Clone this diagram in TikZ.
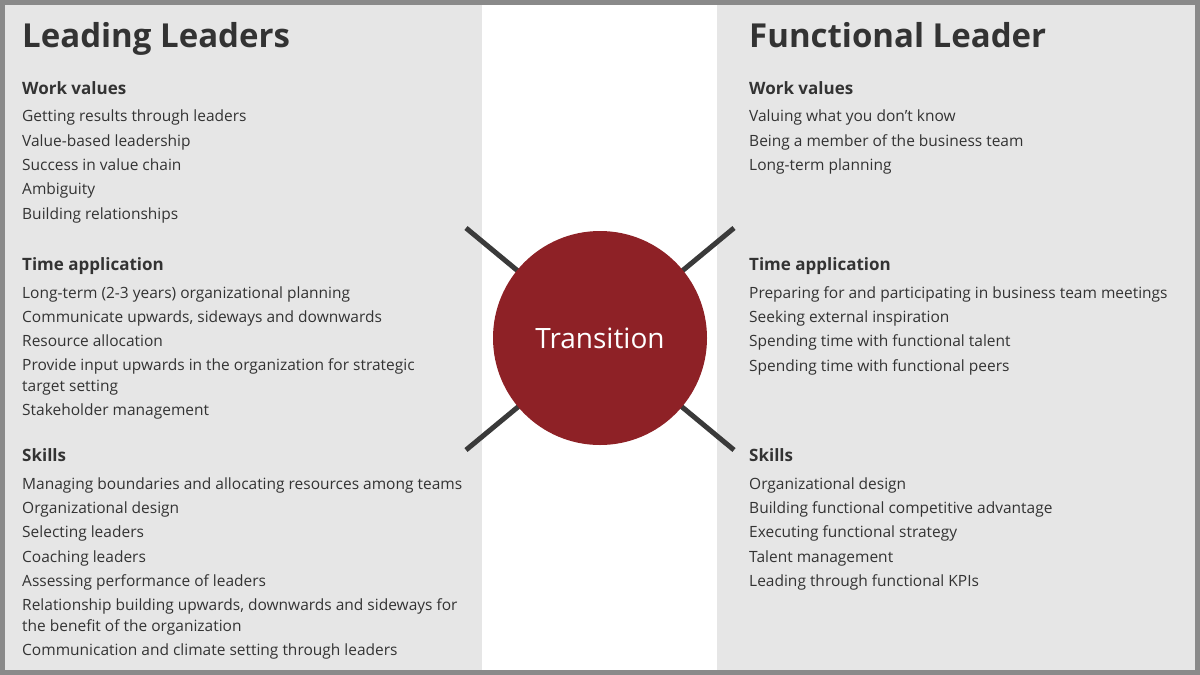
\documentclass[tikz,border=0pt]{standalone}
\usepackage{fontspec}
\setmainfont{Open Sans}
\definecolor{panel}{HTML}{E6E6E6}
\definecolor{frame}{HTML}{8A8A8A}
\definecolor{txt}{HTML}{333333}
\definecolor{circ}{HTML}{8E2126}
\definecolor{spoke}{HTML}{3A3A3A}
\begin{document}
\begin{tikzpicture}[x=1pt,y=-1pt,
  title/.style={anchor=base west,inner sep=0pt,text=txt,font=\fontsize{33}{36}\selectfont\bfseries},
  head/.style={anchor=base west,inner sep=0pt,text=txt,font=\fontsize{17}{20}\selectfont\bfseries},
  item/.style={anchor=base west,inner sep=0pt,text=txt,font=\fontsize{15.5}{21}\selectfont},
  spk/.style={draw=spoke,line width=5pt}]
\fill[frame] (0,0) rectangle (1200,675);
\fill[white] (5,5) rectangle (1195,670);
\fill[panel] (5,5) rectangle (482,670);
\fill[panel] (717,5) rectangle (1195,670);
\coordinate (c) at (600,338);
\draw[spk] (466,228) -- (734,450);
\draw[spk] (734,228) -- (466,450);
\node[circle,fill=circ,minimum size=214pt,inner sep=0pt,text=white,font=\fontsize{28}{30}\selectfont] (tr) at (c) {Transition};
% left
\node[title] (lt) at (22,47) {Leading Leaders};
\node[head] (lh1) at (22,94) {Work values};
\node[item] (l1) at (22,121) {Getting results through leaders};
\node[item] (l2) at (22,146) {Value-based leadership};
\node[item] (l3) at (22,170) {Success in value chain};
\node[item] (l4) at (22,194) {Ambiguity};
\node[item] (l5) at (22,219) {Building relationships};
\node[head] (lh2) at (22,270) {Time application};
\node[item] (l6) at (22,298) {Long-term (2-3 years) organizational planning};
\node[item] (l7) at (22,322) {Communicate upwards, sideways and downwards};
\node[item] (l8) at (22,346) {Resource allocation};
\node[item] (l9) at (22,370) {Provide input upwards in the organization for strategic};
\node[item] (l9b) at (22,391) {target setting};
\node[item] (l10) at (22,415) {Stakeholder management};
\node[head] (lh3) at (22,461) {Skills};
\node[item] (l11) at (22,489) {Managing boundaries and allocating resources among teams};
\node[item] (l12) at (22,513) {Organizational design};
\node[item] (l13) at (22,537) {Selecting leaders};
\node[item] (l14) at (22,562) {Coaching leaders};
\node[item] (l15) at (22,586) {Assessing performance of leaders};
\node[item] (l16) at (22,610) {Relationship building upwards, downwards and sideways for};
\node[item] (l16b) at (22,631) {the benefit of the organization};
\node[item] (l17) at (22,655) {Communication and climate setting through leaders};
% right
\node[title] (rt) at (749,47) {Functional Leader};
\node[head] (rh1) at (749,94) {Work values};
\node[item] (r1) at (749,121) {Valuing what you don’t know};
\node[item] (r2) at (749,146) {Being a member of the business team};
\node[item] (r3) at (749,170) {Long-term planning};
\node[head] (rh2) at (749,270) {Time application};
\node[item] (r4) at (749,298) {Preparing for and participating in business team meetings};
\node[item] (r5) at (749,322) {Seeking external inspiration};
\node[item] (r6) at (749,346) {Spending time with functional talent};
\node[item] (r7) at (749,371) {Spending time with functional peers};
\node[head] (rh3) at (749,461) {Skills};
\node[item] (r8) at (749,489) {Organizational design};
\node[item] (r9) at (749,513) {Building functional competitive advantage};
\node[item] (r10) at (749,537) {Executing functional strategy};
\node[item] (r11) at (749,562) {Talent management};
\node[item] (r12) at (749,586) {Leading through functional KPIs};
\end{tikzpicture}
\end{document}
